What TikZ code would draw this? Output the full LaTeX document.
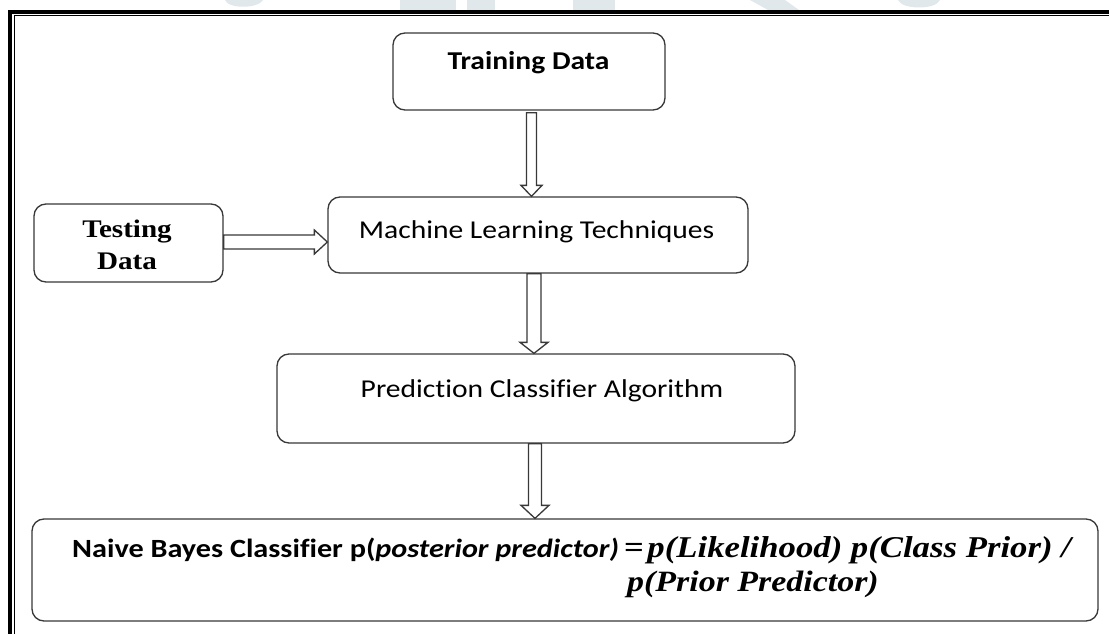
\documentclass[tikz,border=0pt]{standalone}
\usepackage{fontspec}
\newfontfamily\calfont[RawFeature={-liga;-clig}]{Carlito}
\newfontfamily\tnrfont{Liberation Serif}
\usetikzlibrary{calc}
\definecolor{boxc}{HTML}{383838}
\definecolor{wmark}{HTML}{E1E8EC}
\newcommand\sx[1]{\scalebox{1.15}[1]{#1}}
\begin{document}
\begin{tikzpicture}[x=1pt,y=-1pt,
  box/.style={draw=boxc, line width=1.3pt, rounded corners=12pt, inner sep=0pt, fill=white},
  arr/.style={draw=boxc, line width=1.3pt, fill=white, line join=miter},
  txt/.style={inner sep=0pt, anchor=base, text=black},
  txtw/.style={inner sep=0pt, anchor=base west, text=black}]
\useasboundingbox (0,0) rectangle (1109,634);
\fill[white] (0,0) rectangle (1109,634);
% faint watermark remnants
\fill[wmark] (225,0) .. controls (228,9) and (258,9) .. (263,0) -- cycle;
\fill[wmark] (400,0) rectangle (456,10);
\fill[wmark] (467,0) rectangle (495,10);
\fill[wmark] (573,0) rectangle (615,10);
\fill[wmark] (750,0) -- (768,10) -- (799,10) -- (785,0) -- cycle;
\fill[wmark] (898,0) .. controls (902,10) and (936,10) .. (940,0) -- cycle;
% frame
\draw[line width=3.6pt, line join=miter] (9.8,634) -- (9.8,12) -- (1109,12);
\draw[line width=1.3pt, line join=miter] (14.2,634) -- (14.2,15.7) -- (1109,15.7);
% boxes
\node[box, minimum width=272pt, minimum height=77pt] (train) at (529,71.5) {};
\node[box, minimum width=189pt, minimum height=78pt] (test) at (128.5,243) {};
\node[box, minimum width=420pt, minimum height=76pt] (ml) at (538,235) {};
\node[box, minimum width=518pt, minimum height=89pt] (pred) at (536,398.5) {};
\node[box, minimum width=1066pt, minimum height=102pt] (nb) at (565,570) {};
% texts
\node[txt] (trainT) at (528.5,70) {\sx{\calfont\bfseries\fontsize{25.7}{30}\selectfont Training Data}};
\node[txt] (testT1) at (127,237) {\sx{\tnrfont\bfseries\fontsize{25.3}{30}\selectfont Testing}};
\node[txt] (testT2) at (127,269) {\sx{\tnrfont\bfseries\fontsize{25.3}{30}\selectfont Data}};
\node[txt] (mlT) at (536.5,238) {\sx{\calfont\fontsize{25.7}{30}\selectfont Machine Learning Techniques}};
\node[txt] (predT) at (542,397) {\sx{\calfont\fontsize{25.7}{30}\selectfont Prediction Classifier Algorithm}};
\node[txtw] (nbA) at (72,557) {\sx{\calfont\bfseries\fontsize{26.3}{30}\selectfont Naive Bayes Classifier p(\itshape posterior predictor)}};
\node[txtw] (nbB) at (624,557) {\sx{\tnrfont\bfseries\fontsize{30.2}{34}\selectfont =\kern3pt\itshape p(Likelihood) p(Class Prior) /}};
\node[txtw] (nbC) at (627,591) {\sx{\tnrfont\bfseries\itshape\fontsize{29.5}{34}\selectfont p(Prior Predictor)}};
% arrows
\draw[arr] let \p1=($(train.south)+(2.5,0)$), \p2=(ml.north) in
  (\x1-5pt,\y1-2pt) -- (\x1-5pt,\y2+11pt) -- (\x1-10.5pt,\y2+11pt) -- (\x1,\y2)
  -- (\x1+10.5pt,\y2+11pt) -- (\x1+5pt,\y2+11pt) -- (\x1+5pt,\y1-2pt) -- cycle;
\draw[arr] let \p1=($(ml.south)+(-4,0)$), \p2=(pred.north) in
  (\x1-7pt,\y1) -- (\x1-7pt,\y2+11pt) -- (\x1-14pt,\y2+11pt) -- (\x1,\y2)
  -- (\x1+14pt,\y2+11pt) -- (\x1+7pt,\y2+11pt) -- (\x1+7pt,\y1) -- cycle;
\draw[arr] let \p1=($(pred.south)+(-1,0)$), \p2=(nb.north) in
  (\x1-6.5pt,\y1) -- (\x1-6.5pt,\y2+13pt) -- (\x1-14pt,\y2+13pt) -- (\x1,\y2)
  -- (\x1+14pt,\y2+13pt) -- (\x1+6.5pt,\y2+13pt) -- (\x1+6.5pt,\y1) -- cycle;
\draw[arr] let \p1=($(test.east)+(0,-1)$), \p2=(ml.west) in
  (\x1,\y1+7pt) -- (\x2-13pt,\y1+7pt) -- (\x2-13pt,\y1+12pt) -- (\x2,\y1)
  -- (\x2-13pt,\y1-12pt) -- (\x2-13pt,\y1-7pt) -- (\x1,\y1-7pt) -- cycle;
\end{tikzpicture}
\end{document}
